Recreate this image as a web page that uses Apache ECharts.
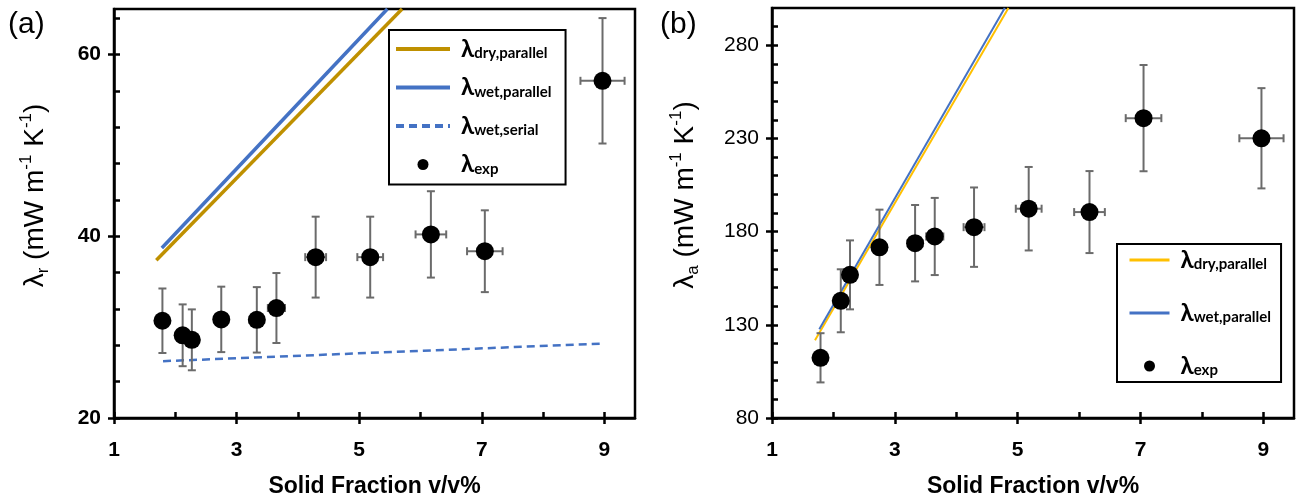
<!DOCTYPE html>
<html><head><meta charset="utf-8">
<script src="https://cdn.jsdelivr.net/npm/echarts@6/dist/echarts.min.js"></script>
<style>html,body{margin:0;padding:0;background:#fff}#c{width:1300px;height:500px}</style>
</head><body><div id="c"></div>
<script>
// ---------- data ----------
const solidFraction = [1.79, 2.12, 2.27, 2.75, 3.33, 3.65, 4.29, 5.18, 6.17, 7.05, 8.97];
const solidFractionErr = [0.05, 0.05, 0.05, 0.05, 0.12, 0.14, 0.17, 0.21, 0.25, 0.29, 0.36];

const lambdaR = [30.7, 29.1, 28.6, 30.85, 30.8, 32.1, 37.7, 37.7, 40.2, 38.35, 57.1];
const lambdaRErr = [3.55, 3.4, 3.35, 3.6, 3.6, 3.85, 4.45, 4.45, 4.75, 4.5, 6.9];

const lambdaA = [112.3, 142.9, 156.8, 171.6, 173.8, 177.4, 182.4, 192.3, 190.5, 240.9, 230.1];
const lambdaAErr = [13.2, 16.9, 18.5, 20.2, 20.5, 20.7, 21.3, 22.4, 22.0, 28.5, 26.9];

const rDryParallel = [[1.69, 37.35], [5.70, 65]];
const rWetParallel = [[1.78, 38.7], [5.46, 65]];
const rWetSerial = [[1.80, 26.25], [9.0, 28.2]];

const aDryParallel = [[1.70, 121.7], [4.85, 300]];
const aWetParallel = [[1.77, 127.6], [4.79, 300]];

const xTickLabels = [1, 3, 5, 7, 9];
const xMinorTicks = [1, 2, 3, 4, 5, 6, 7, 8, 9];
const rTickLabels = [20, 40, 60];
const rMinorTicks = [20, 24, 28, 32, 36, 40, 44, 48, 52, 56, 60, 64];
const aTickLabels = [80, 130, 180, 230, 280];
const aMinorTicks = [80, 90, 100, 110, 120, 130, 140, 150, 160, 170, 180, 190, 200, 210, 220, 230, 240, 250, 260, 270, 280, 290];

const legendLabels = {
  aDry: '{l|λ}{s|dry,parallel}',
  aWet: '{l|λ}{s|wet,parallel}',
  aSerial: '{l|λ}{s|wet,serial}',
  aExp: '{l|λ}{s|exp}',
  bDry: '{l|λ}{s|dry,parallel}',
  bWet: '{l|λ}{s|wet,parallel}',
  bExp: '{l|λ}{s|exp}'
};

// ---------- styling ----------
const ARIAL = "'Liberation Sans', Arial, sans-serif";
const CALIBRI = "Lato, 'Noto Sans', sans-serif";
const GOLD_A = '#BF9000', GOLD_B = '#FFC000', BLUE = '#4472C4';
const ERR = '#6b6b6b';

function pts(xs, ys, eys, exs) {
  return xs.map((x, i) => [x, ys[i], eys[i], exs[i]]);
}

function errRender(params, api) {
  const x = api.value(0), y = api.value(1), ey = api.value(2), ex = api.value(3);
  const top = api.coord([x, y + ey]), bot = api.coord([x, y - ey]);
  const lft = api.coord([x - ex, y]), rgt = api.coord([x + ex, y]);
  const cap = 4;
  const st = { stroke: ERR, lineWidth: 2 };
  const L = (x1, y1, x2, y2) => ({ type: 'line', shape: { x1, y1, x2, y2 }, style: st });
  return {
    type: 'group',
    children: [
      L(top[0], top[1], bot[0], bot[1]),
      L(top[0] - cap, top[1], top[0] + cap, top[1]),
      L(bot[0] - cap, bot[1], bot[0] + cap, bot[1]),
      L(lft[0], lft[1], rgt[0], rgt[1]),
      L(lft[0], lft[1] - cap, lft[0], lft[1] + cap),
      L(rgt[0], rgt[1] - cap, rgt[0], rgt[1] + cap)
    ]
  };
}

function xAxes(g) {
  return [
    {
      type: 'value', gridIndex: g, position: 'bottom', min: 1, max: 9.5,
      axisLine: { onZero: false, lineStyle: { color: '#000', width: 2.5 } },
      axisTick: { inside: true, length: 6, customValues: xMinorTicks, lineStyle: { color: '#000', width: 2.5 } },
      axisLabel: { customValues: xTickLabels, margin: 22, color: '#000', fontSize: 21, fontWeight: 'bold', fontFamily: ARIAL },
      splitLine: { show: false },
      name: 'Solid Fraction v/v%', nameLocation: 'middle', nameGap: 57,
      nameTextStyle: { color: '#000', fontSize: 23, fontWeight: 'bold', fontFamily: ARIAL }
    },
    {
      type: 'value', gridIndex: g, position: 'bottom', min: 1, max: 9.5,
      axisLine: { show: false, onZero: false },
      axisTick: { inside: false, length: 6, customValues: xTickLabels, lineStyle: { color: '#000', width: 2.5 } },
      axisLabel: { show: false }, splitLine: { show: false }
    }
  ];
}

function yAxes(g, min, max, minor, labels, bold, name, gap) {
  return [
    {
      type: 'value', gridIndex: g, position: 'left', min, max,
      axisLine: { onZero: false, lineStyle: { color: '#000', width: 2.5 } },
      axisTick: { inside: true, length: 6, customValues: minor, lineStyle: { color: '#000', width: 2.5 } },
      axisLabel: { customValues: labels, margin: 13, color: '#000', fontSize: 21, fontWeight: bold ? 'bold' : 'normal', fontFamily: ARIAL },
      splitLine: { show: false },
      name, nameLocation: 'middle', nameGap: gap, nameRotate: 90,
      nameTextStyle: {
        color: '#000', fontFamily: ARIAL, padding: [0, 0, 0, 36],
        rich: {
          t: { fontSize: 28, lineHeight: 34, fontFamily: ARIAL, color: '#000' },
          sub: { fontSize: 17, lineHeight: 18, verticalAlign: 'bottom', fontFamily: ARIAL, color: '#000' },
          sup: { fontSize: 17, lineHeight: 18, verticalAlign: 'top', fontFamily: ARIAL, color: '#000' }
        }
      }
    },
    {
      type: 'value', gridIndex: g, position: 'left', min, max,
      axisLine: { show: false, onZero: false },
      axisTick: { inside: false, length: 6, customValues: labels, lineStyle: { color: '#000', width: 2.5 } },
      axisLabel: { show: false }, splitLine: { show: false }
    }
  ];
}

const legendRich = {
  l: { fontSize: 24, lineHeight: 24, fontWeight: 'bold', fontFamily: CALIBRI, color: '#000', padding: [0, 0, 0, 6] },
  s: { fontSize: 15, lineHeight: 14, fontWeight: 'bold', fontFamily: CALIBRI, color: '#000', verticalAlign: 'bottom' }
};

const hideSym = { opacity: 0 };

const option = {
  animation: false,
  backgroundColor: '#fff',
  title: [
    { text: '(a)', left: 8, top: 10, padding: 0, textStyle: { fontSize: 30, fontWeight: 'normal', fontFamily: ARIAL, color: '#000' } },
    { text: '(b)', left: 660, top: 10, padding: 0, textStyle: { fontSize: 30, fontWeight: 'normal', fontFamily: ARIAL, color: '#000' } }
  ],
  grid: [
    { left: 114, top: 9, width: 521, height: 409, show: true, borderColor: '#000', borderWidth: 2.5, outerBoundsMode: 'none', containLabel: false },
    { left: 772, top: 8, width: 522, height: 410, show: true, borderColor: '#000', borderWidth: 2.5, outerBoundsMode: 'none', containLabel: false }
  ],
  xAxis: [...xAxes(0), ...xAxes(1)],
  yAxis: [
    ...yAxes(0, 20, 65, rMinorTicks, rTickLabels, true, '{t|λ}{sub|r}{t| (mW m}{sup|-1}{t| K}{sup|-1}{t|)}', 62),
    ...yAxes(1, 80, 300, aMinorTicks, aTickLabels, false, '{t|λ}{sub|a}{t| (mW m}{sup|-1}{t| K}{sup|-1}{t|)}', 70)
  ],
  legend: [
    {
      data: [
        { name: 'aDry', itemStyle: hideSym },
        { name: 'aWet', itemStyle: hideSym },
        { name: 'aSerial', itemStyle: hideSym },
        { name: 'aExp' }
      ],
      orient: 'vertical', left: 389, top: 30,
      padding: [7, 14, 8, 5], itemGap: 14.5, itemWidth: 54, itemHeight: 11,
      borderColor: '#000', borderWidth: 2, selectedMode: false,
      lineStyle: { width: 4 },
      formatter: n => legendLabels[n], textStyle: { rich: legendRich }
    },
    {
      data: [
        { name: 'bDry', itemStyle: hideSym },
        { name: 'bWet', itemStyle: hideSym },
        { name: 'bExp' }
      ],
      orient: 'vertical', left: 1117, top: 244,
      padding: [4, 10, 4, 11], itemGap: 29, itemWidth: 40, itemHeight: 11,
      borderColor: '#000', borderWidth: 2, selectedMode: false,
      lineStyle: { width: 3 },
      formatter: n => legendLabels[n], textStyle: { rich: legendRich }
    }
  ],
  series: [
    { name: 'aDry', type: 'line', xAxisIndex: 0, yAxisIndex: 0, data: rDryParallel, symbol: 'none', color: GOLD_A, lineStyle: { color: GOLD_A, width: 3.5 }, z: 2 },
    { name: 'aWet', type: 'line', xAxisIndex: 0, yAxisIndex: 0, data: rWetParallel, symbol: 'none', color: BLUE, lineStyle: { color: BLUE, width: 3.5 }, z: 2 },
    { name: 'aSerial', type: 'line', xAxisIndex: 0, yAxisIndex: 0, data: rWetSerial, symbol: 'none', color: BLUE, lineStyle: { color: BLUE, width: 2.5, type: [8, 5] }, z: 2 },
    { name: 'aErr', type: 'custom', xAxisIndex: 0, yAxisIndex: 0, data: pts(solidFraction, lambdaR, lambdaRErr, solidFractionErr), renderItem: errRender, z: 3 },
    { name: 'aExp', type: 'scatter', xAxisIndex: 0, yAxisIndex: 0, data: solidFraction.map((x, i) => [x, lambdaR[i]]), symbolSize: 18, color: '#000', itemStyle: { color: '#000', opacity: 1 }, z: 4 },

    { name: 'bDry', type: 'line', xAxisIndex: 2, yAxisIndex: 2, data: aDryParallel, symbol: 'none', color: GOLD_B, lineStyle: { color: GOLD_B, width: 2 }, z: 2 },
    { name: 'bWet', type: 'line', xAxisIndex: 2, yAxisIndex: 2, data: aWetParallel, symbol: 'none', color: BLUE, lineStyle: { color: BLUE, width: 2 }, z: 2 },
    { name: 'bErr', type: 'custom', xAxisIndex: 2, yAxisIndex: 2, data: pts(solidFraction, lambdaA, lambdaAErr, solidFractionErr), renderItem: errRender, z: 3 },
    { name: 'bExp', type: 'scatter', xAxisIndex: 2, yAxisIndex: 2, data: solidFraction.map((x, i) => [x, lambdaA[i]]), symbolSize: 18, color: '#000', itemStyle: { color: '#000', opacity: 1 }, z: 4 }
  ]
};

const chart = echarts.init(document.getElementById('c'), null, { renderer: 'canvas' });
chart.setOption(option);
</script>
</body></html>
